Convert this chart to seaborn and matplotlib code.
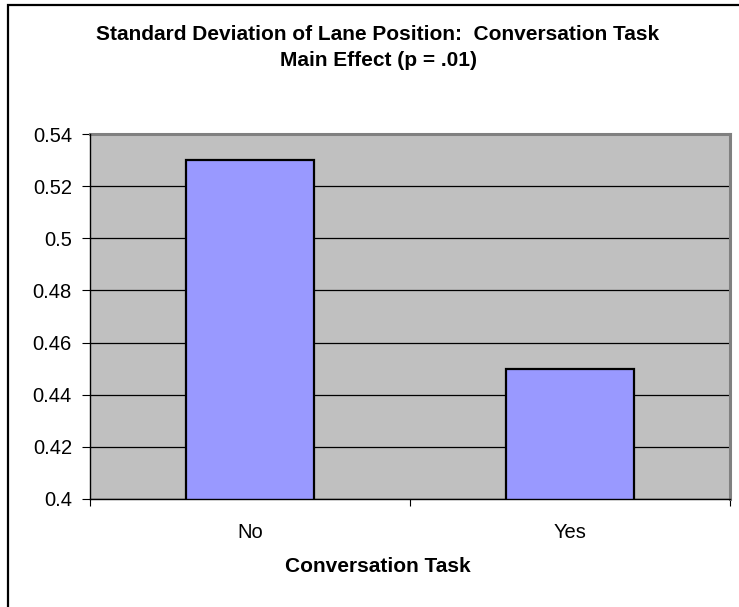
import matplotlib
matplotlib.use("Agg")
import matplotlib.pyplot as plt
from matplotlib.patches import Rectangle
from matplotlib.ticker import FixedLocator, NullLocator
import seaborn as sns
import pandas as pd

# Chart values
categories = ["No", "Yes"]
sdlp = [0.53, 0.45]
y_ticks = [0.4, 0.42, 0.44, 0.46, 0.48, 0.5, 0.52, 0.54]
y_tick_labels = ["0.4", "0.42", "0.44", "0.46", "0.48", "0.5", "0.52", "0.54"]

title_line1 = "Standard Deviation of Lane Position:  Conversation Task"
title_line2 = "Main Effect (p = .01)"
x_label = "Conversation Task"

sns.set_theme(style="white")
plt.rcParams["font.family"] = ["Liberation Sans", "DejaVu Sans"]

W, H = 739, 607
fig = plt.figure(figsize=(W / 100, H / 100), dpi=100)
fig.patch.set_facecolor("white")

# plot area in pixel units -> figure fraction
left, right, top, bottom = 90, 730, 134, 499
ax = fig.add_axes([left / W, 1 - bottom / H, (right - left) / W, (bottom - top) / H])
ax.set_facecolor("#C0C0C0")

df = pd.DataFrame({"task": categories, "sdlp": sdlp})
sns.barplot(data=df, x="task", y="sdlp", color="#9999FF", edgecolor="black",
            linewidth=1.6, width=0.4, saturation=1, ax=ax, zorder=3)

ax.set_ylim(0.4, 0.54)
ax.set_xlim(-0.5, 1.5)
ax.set_yticks(y_ticks)
ax.set_yticklabels(y_tick_labels)
ax.yaxis.grid(True, color="black", linewidth=0.9, zorder=1)
ax.set_axisbelow(True)

ax.tick_params(axis="y", which="major", direction="out", length=6, width=0.8,
               color="black", labelsize=14.5, pad=7, labelcolor="black", left=True)
ax.tick_params(axis="x", which="major", length=0, labelsize=14.5, pad=17, labelcolor="black")
ax.xaxis.set_minor_locator(FixedLocator([-0.5, 0.5, 1.5]))
ax.tick_params(axis="x", which="minor", direction="out", length=5, width=0.8,
               color="black", bottom=True)
ax.yaxis.set_minor_locator(NullLocator())

ax.set_xlabel("")
ax.set_ylabel("")

for side in ["top", "right"]:
    ax.spines[side].set_color("#808080")
    ax.spines[side].set_linewidth(2.2)
for side in ["left", "bottom"]:
    ax.spines[side].set_color("black")
    ax.spines[side].set_linewidth(1.0)
    ax.spines[side].set_zorder(5)

# titles and axis label placed in figure coordinates
fig.text(378 / W, 1 - 34 / H, title_line1, ha="center", va="center",
         fontsize=15, fontweight="bold", color="black")
fig.text(378 / W, 1 - 60 / H, title_line2, ha="center", va="center",
         fontsize=15, fontweight="bold", color="black")
fig.text(378 / W, 1 - 567 / H, x_label, ha="center", va="center",
         fontsize=15, fontweight="bold", color="black")

# chart-area border (runs off the right and bottom edges)
fig.patches.append(Rectangle((7.5 / W, -0.1), 1.2, 1 - 4.5 / H + 0.1,
                             transform=fig.transFigure, fill=False,
                             edgecolor="black", linewidth=1.6, zorder=0))

fig.savefig("out.png", dpi=100, facecolor="white")
